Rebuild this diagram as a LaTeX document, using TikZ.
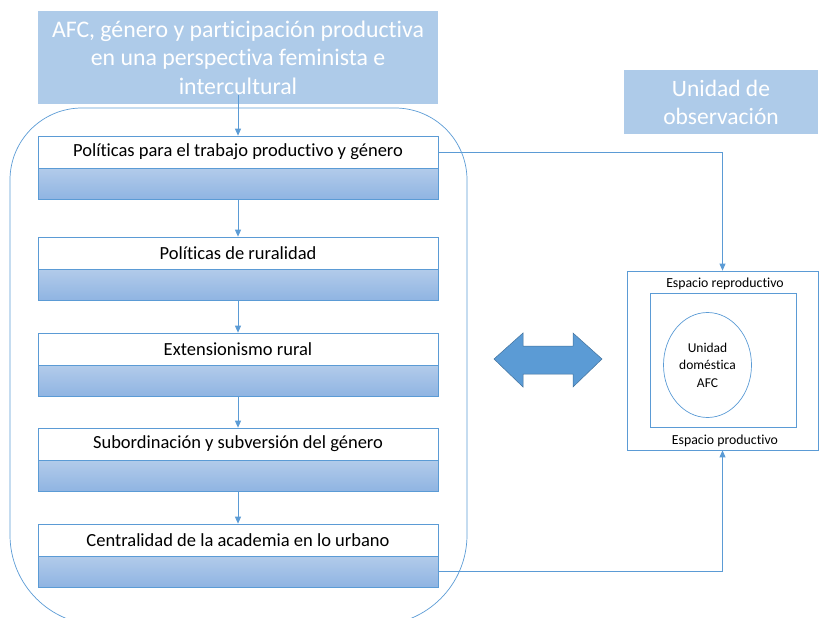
\documentclass[tikz,border=0pt]{standalone}
\usepackage{fontspec}
\setmainfont{Carlito}[Ligatures={NoCommon}]
\usetikzlibrary{arrows.meta,shapes.geometric}
\definecolor{lineblue}{RGB}{91,155,213}
\definecolor{titleblue}{RGB}{174,203,233}
\definecolor{gradtop}{RGB}{178,203,234}
\definecolor{gradbot}{RGB}{143,180,226}
\definecolor{arrowedge}{RGB}{65,113,156}
\tikzset{
  conn/.style={draw=lineblue, line width=0.8pt, -{Triangle[length=7pt,width=6pt]}},
  whitebox/.style={draw=lineblue, line width=0.7pt, fill=white, minimum width=400pt, minimum height=32pt, inner sep=0pt, font=\fontsize{18.5}{21}\selectfont, text=black},
  bluebox/.style={draw=lineblue, line width=0.7pt, top color=gradtop, bottom color=gradbot, minimum width=400pt, minimum height=31pt, inner sep=0pt},
  headbox/.style={fill=titleblue, text=white, inner sep=0pt, align=center},
  smalltext/.style={font=\fontsize{13.8}{16}\selectfont, text=black, inner sep=0pt},
}
\begin{document}
\begin{tikzpicture}[x=1pt,y=-1pt]
\useasboundingbox (0,0) rectangle (819,618);
% big rounded frame
\draw[lineblue, line width=0.7pt] (10,350) [rounded corners=72pt] -- (10,108) -- (467,108) -- (467,350) [rounded corners=90pt] -- (467,625) -- (10,625) [sharp corners] -- cycle;
% title
\node[headbox, minimum width=400pt, minimum height=93pt, font=\fontsize{23.8}{28.5}\selectfont] (title) at (238,57.5) {AFC, género y participación productiva\\en una perspectiva feminista e\\intercultural};
\node[headbox, minimum width=194pt, minimum height=64pt, font=\fontsize{23.5}{28}\selectfont] (obs) at (721,102) {Unidad de\\observación};
% boxes
\node[whitebox] (b1w) at (238,152) {Políticas para el trabajo productivo y género};
\node[bluebox] (b1b) at (238,184) {};
\node[whitebox] (b2w) at (238,253) {Políticas de ruralidad};
\node[bluebox] (b2b) at (238,285) {};
\node[whitebox] (b3w) at (238,349) {Extensionismo rural};
\node[bluebox] (b3b) at (238,381) {};
\node[whitebox] (b4w) at (238,444) {Subordinación y subversión del género};
\node[bluebox] (b4b) at (238,476) {};
\node[whitebox] (b5w) at (238,540) {Centralidad de la academia en lo urbano};
\node[bluebox] (b5b) at (238,571.5) {};
% vertical connectors
\draw[conn] ([yshift=9pt]title.south) -- (b1w.north);
\draw[conn] (b1b.south) -- (b2w.north);
\draw[conn] (b2b.south) -- (b3w.north);
\draw[conn] (b3b.south) -- (b4w.north);
\draw[conn] (b4b.south) -- (b5w.north);
% observation unit
\node[draw=lineblue, line width=0.7pt, minimum width=191pt, minimum height=179pt, inner sep=0pt] (outer) at (722.5,360.5) {};
\node[draw=lineblue, line width=0.7pt, minimum width=146pt, minimum height=134pt, inner sep=0pt] (inner) at (723,360) {};
\node[draw=lineblue, line width=0.7pt, ellipse, minimum width=88pt, minimum height=105pt, inner sep=0pt, align=center, font=\fontsize{13.5}{17.5}\selectfont] (unit) at (707.5,365) {Unidad\\doméstica\\AFC};
\node[smalltext] (repro) at (725,284) {Espacio reproductivo};
\node[smalltext] (prod) at (725,441) {Espacio productivo};
% side connectors
\draw[conn] (b1w.east) -| (outer.north);
\draw[conn] (b5b.east) -| (outer.south);
% double arrow
\draw[fill=lineblue, draw=arrowedge, line width=0.5pt] (494,359) -- (523,333) -- (523,346) -- (573,346) -- (573,333) -- (602,359) -- (573,387) -- (573,374) -- (523,374) -- (523,387) -- cycle;
\end{tikzpicture}
\end{document}
